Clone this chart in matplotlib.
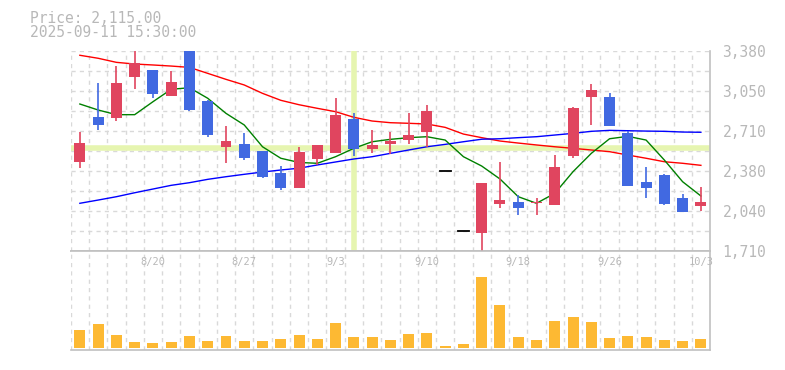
import matplotlib
matplotlib.use("Agg")
import matplotlib.pyplot as plt
import matplotlib.transforms as mtransforms

# daily candles (JPY)
dates = ["8/14", "8/15", "8/18", "8/19", "8/20", "8/21", "8/22", "8/25", "8/26", "8/27",
         "8/28", "8/29", "9/1", "9/2", "9/3", "9/4", "9/5", "9/8", "9/9", "9/10",
         "9/11", "9/12", "9/16", "9/17", "9/18", "9/19", "9/22", "9/24", "9/25", "9/26",
         "9/29", "9/30", "10/1", "10/2", "10/3"]
opens = [2451, 2826, 2818, 3163, 3219, 3004, 3385, 2960, 2576, 2601,
         2543, 2359, 2236, 2478, 2528, 2810, 2562, 2604, 2637, 2704,
         2376, 1872, 1860, 2103, 2117, 2108, 2094, 2503, 2996, 2993,
         2693, 2284, 2342, 2150, 2080]
highs = [2701, 3110, 3252, 3400, 3219, 3211, 3400, 2966, 2751, 2693,
         2543, 2415, 2576, 2593, 2985, 2860, 2720, 2704, 2860, 2929,
         2376, 1872, 2275, 2451, 2178, 2153, 2512, 2910, 3102, 3027,
         2712, 2411, 2353, 2186, 2244]
lows = [2403, 2720, 2796, 3063, 2988, 3004, 2877, 2662, 2445, 2467,
        2320, 2219, 2236, 2428, 2528, 2503, 2528, 2520, 2604, 2578,
        2376, 1872, 1690, 2069, 2011, 2011, 2092, 2487, 2762, 2754,
        2253, 2153, 2094, 2036, 2044]
closes = [2609, 2762, 3110, 3277, 3021, 3119, 2885, 2676, 2626, 2487,
          2325, 2236, 2534, 2593, 2843, 2562, 2593, 2626, 2679, 2879,
          2376, 1872, 2275, 2136, 2069, 2117, 2411, 2902, 3052, 2754,
          2253, 2236, 2103, 2036, 2115]
volumes = [180, 240, 130, 60, 50, 60, 120, 70, 120, 70,
           70, 90, 130, 90, 250, 110, 110, 80, 140, 150,
           20, 40, 710, 430, 110, 80, 270, 310, 260, 100,
           120, 110, 80, 70, 90]

# moving averages
ma_short = [2935, 2885, 2846, 2846, 2954, 3058, 3071, 2983, 2857, 2760,
            2578, 2482, 2447, 2440, 2495, 2565, 2620, 2640, 2654, 2662,
            2634, 2495, 2417, 2309, 2161, 2106, 2189, 2370, 2523, 2645,
            2665, 2634, 2467, 2286, 2167]
ma_mid = [3342, 3317, 3283, 3269, 3261, 3252, 3241, 3191, 3141, 3094,
          3024, 2966, 2929, 2899, 2871, 2824, 2793, 2779, 2774, 2768,
          2740, 2684, 2654, 2626, 2609, 2593, 2578, 2565, 2551, 2537,
          2509, 2482, 2453, 2440, 2423]
ma_long = [2106, 2133, 2161, 2194, 2225, 2256, 2278, 2306, 2328, 2348,
           2367, 2384, 2399, 2426, 2451, 2476, 2495, 2523, 2551, 2578,
           2598, 2620, 2641, 2645, 2654, 2662, 2676, 2690, 2707, 2715,
           2712, 2709, 2707, 2701, 2699]

price_ticks = [1710, 2044, 2378, 2712, 3046, 3380]
price_labels = ["1,710", "2,040", "2,380", "2,710", "3,050", "3,380"]
date_label_idx = [4, 9, 14, 19, 24, 29, 34]
cross_idx = 15
cross_price = 2565

UP = "#e0455f"
DOWN = "#4169e1"
VOL = "#fdb933"
GRID = "#d9d9d9"
AXIS = "#c0c0c0"
TEXT = "#b8b8b8"
CROSS = "#e6f5b0"
FONT = "DejaVu Sans Mono"

fig = plt.figure(figsize=(7.85, 3.7), dpi=100)
ax = fig.add_axes([0.0901, 0.3224, 0.8144, 0.5405])
axv = fig.add_axes([0.0901, 0.054, 0.8144, 0.2684])

n = len(dates)
for a in (ax, axv):
  a.set_xlim(-0.5, n - 0.5)
  a.set_xticks([])
  for k in range(n):
    a.axvline(k - 0.5, color=GRID, lw=1, ls=(0, (3, 3)), zorder=0)
  for s in ("top", "left"):
    a.spines[s].set_visible(False)
  for s in ("bottom", "right"):
    a.spines[s].set_color(AXIS)
  a.spines["right"].set_linewidth(1.2)
  a.spines["bottom"].set_linewidth(1.2)

# price panel
ax.set_ylim(1710, 3380)
for k in range(11):
  ax.axhline(1710 + 167 * (k + 1), color=GRID, lw=1, ls=(0, (3, 3)), zorder=0)
ax.yaxis.tick_right()
ax.set_yticks(price_ticks)
ax.set_yticklabels(price_labels, family=FONT, fontsize=10.5, color=TEXT)
ax.tick_params(axis="y", length=0, pad=9)

ax.axvline(cross_idx, color=CROSS, lw=4, zorder=1)
ax.axhline(cross_price, color=CROSS, lw=4, zorder=1)

ax.plot(range(n), ma_mid, color="red", lw=1, zorder=2)
ax.plot(range(n), ma_long, color="blue", lw=1, zorder=2)
ax.plot(range(n), ma_short, color="green", lw=1, zorder=2)

for i in range(n):
  o, h, l, c = opens[i], highs[i], lows[i], closes[i]
  if o == c == h == l:
    ax.plot([i - 0.3, i + 0.3], [c, c], color="black", lw=1.3, zorder=3)
    continue
  col = UP if c >= o else DOWN
  ax.vlines(i, l, h, color=col, lw=1.2, zorder=3)
  ax.bar(i, max(abs(c - o), 6), bottom=min(o, c), width=0.6, color=col, zorder=4)

# volume panel
axv.set_ylim(-20, 973)
axv.set_yticks([])
axv.bar(range(n), volumes, width=0.6, color=VOL, zorder=3)
trans = mtransforms.blended_transform_factory(axv.transData, axv.transAxes)
for i in date_label_idx:
  axv.text(i, 0.886, dates[i], transform=trans, ha="center", va="center",
           family=FONT, fontsize=7.5, color=TEXT)
axv.spines["top"].set_visible(True)
axv.spines["top"].set_color(AXIS)
axv.spines["top"].set_linewidth(1.2)

fig.text(30 / 785, 0.9386, "Price: 2,115.00", family=FONT, fontsize=10.5, color=TEXT)
fig.text(30 / 785, 0.8992, "2025-09-11 15:30:00", family=FONT, fontsize=10.5, color=TEXT)

fig.savefig("out.png", dpi=100)
